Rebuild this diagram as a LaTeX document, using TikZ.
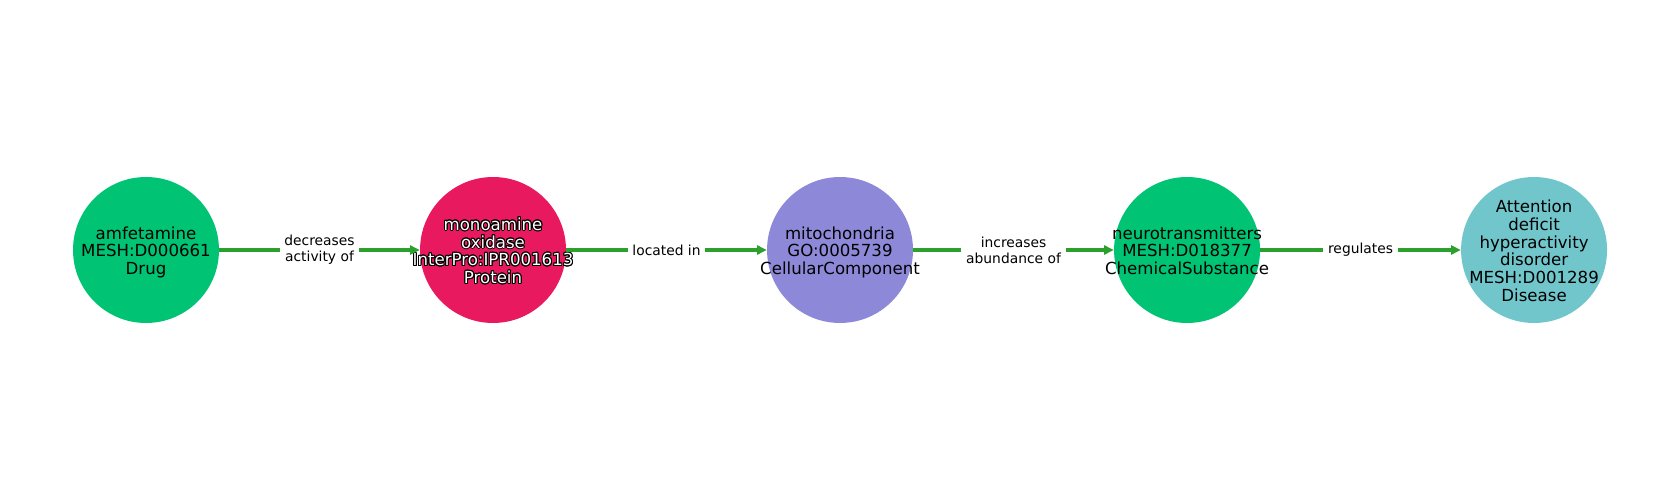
\documentclass[tikz,border=0pt]{standalone}
\usepackage{fontspec}
\setmainfont{DejaVu Sans}
\usepackage{xcolor}
\usepackage[copies]{contour}
\contourlength{0.7pt}
\usetikzlibrary{arrows.meta, positioning}

\definecolor{drugcol}{HTML}{00C373}
\definecolor{protcol}{HTML}{E8195F}
\definecolor{compcol}{HTML}{8D89D8}
\definecolor{discol}{HTML}{71C6CB}
\definecolor{edgecol}{HTML}{2CA02C}

\newcommand{\outl}[1]{\contour{black}{\textcolor{white}{#1}}}
% text wider than the circle must not grow it
\newcommand{\ctr}[1]{\makebox[0pt]{\raisebox{0pt}[\dimexpr\height+4.6pt\relax][\depth]{\begin{tabular}{@{}c@{}}#1\end{tabular}}}}

\begin{document}
\begin{tikzpicture}[
    x=0.254mm, y=-0.254mm,
    node distance=88.14mm, on grid,
    ent/.style={circle, minimum size=37.08mm, inner sep=0pt,
        font=\fontsize{12}{12.6}\selectfont},
    rel/.style={-{Triangle[length=7pt, width=6.5pt]}, edgecol, line width=2.2pt},
    lbl/.style={fill=white, text=black, inner xsep=3.5pt, inner ysep=1pt, align=center,
        font=\fontsize{10}{11.6}\selectfont}
]
\useasboundingbox (0,0) rectangle (1680,500);

% Nodes
\node[ent, fill=drugcol] (amf) at (146,250) {\ctr{amfetamine\\MESH:D000661\\Drug}};
\node[ent, fill=protcol, right=of amf] (mao) {\ctr{\outl{monoamine}\\\outl{oxidase}\\\outl{InterPro:IPR001613}\\\outl{Protein}}};
\node[ent, fill=compcol, right=of mao] (mito) {\ctr{mitochondria\\GO:0005739\\CellularComponent}};
\node[ent, fill=drugcol, right=of mito] (neuro) {\ctr{neurotransmitters\\MESH:D018377\\ChemicalSubstance}};
\node[ent, fill=discol, right=of neuro] (adhd) {\ctr{Attention\\deficit\\hyperactivity\\disorder\\MESH:D001289\\Disease}};

% Edges
\draw[rel] (amf) -- node[lbl] {decreases\\activity of} (mao);
\draw[rel] (mao) -- node[lbl] {located in} (mito);
\draw[rel] (mito) -- node[lbl] {increases\\abundance of} (neuro);
\draw[rel] (neuro) -- node[lbl] {regulates} (adhd);

\end{tikzpicture}
\end{document}
